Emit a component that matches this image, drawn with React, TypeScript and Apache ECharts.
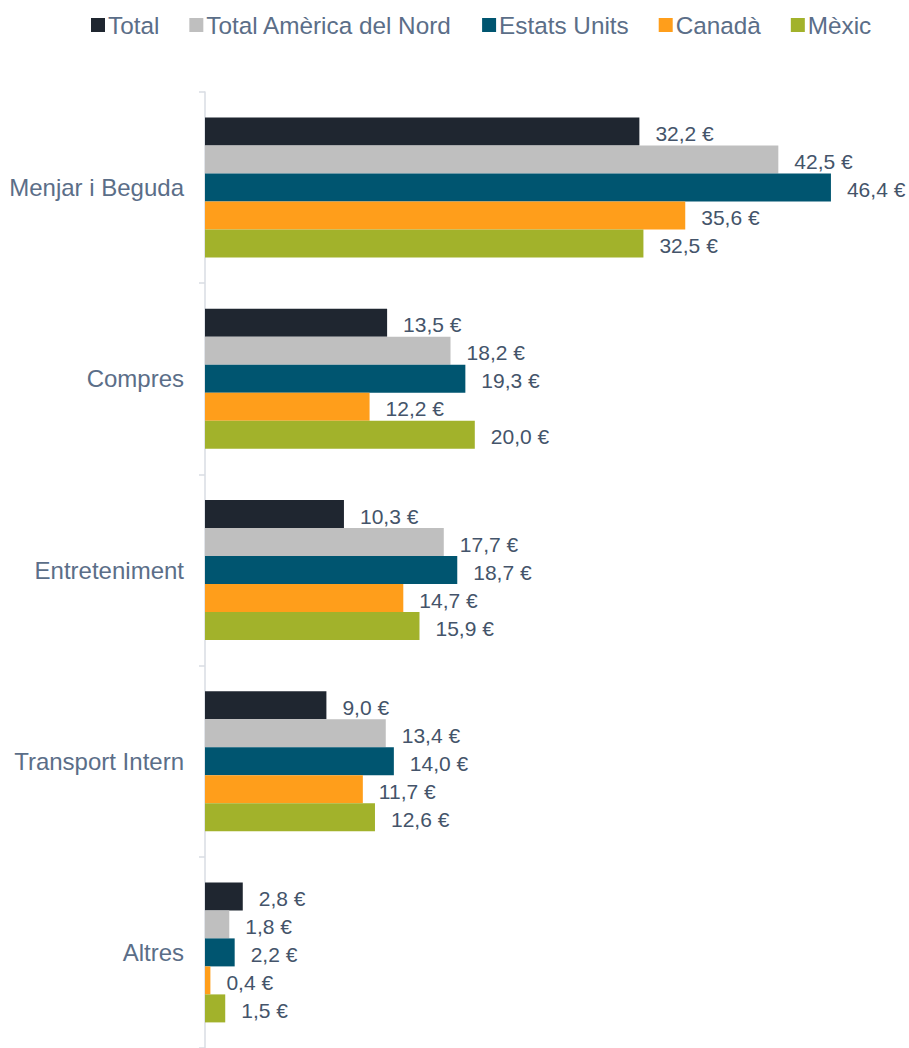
import React, { useEffect, useRef } from "react";
import * as echarts from "echarts";

const categories = ["Menjar i Beguda", "Compres", "Entreteniment", "Transport Intern", "Altres"];
const seriesNames = ["Total", "Total Amèrica del Nord", "Estats Units", "Canadà", "Mèxic"];
const total = [32.2, 13.5, 10.3, 9.0, 2.8];
const totalNA = [42.5, 18.2, 17.7, 13.4, 1.8];
const usa = [46.4, 19.3, 18.7, 14.0, 2.2];
const canada = [35.6, 12.2, 14.7, 11.7, 0.4];
const mexico = [32.5, 20.0, 15.9, 12.6, 1.5];
const colors = ["#1f2630", "#bfbfbf", "#005570", "#ff9e1b", "#a2b22b"];

export default function App() {
  const ref = useRef<HTMLDivElement>(null);
  useEffect(() => {
    if (!ref.current) return;
    const chart = echarts.init(ref.current, null, { renderer: "svg" });
    const data = [total, totalNA, usa, canada, mexico];
    chart.setOption({
      animation: false,
      textStyle: { fontFamily: "Liberation Sans, Arial, sans-serif" },
      legend: {
        top: 8,
        left: 86,
        itemWidth: 14,
        itemHeight: 14,
        itemGap: 30,
        icon: "rect",
        textStyle: { fontSize: 24.3, color: "#5b6e88", padding: [0, 0, 0, -2] },
        data: seriesNames,
      },
      grid: { left: 205, top: 92, width: 674.5, height: 960, containLabel: false },
      xAxis: {
        type: "value",
        min: 0,
        max: 50,
        show: false,
      },
      yAxis: {
        type: "category",
        inverse: true,
        data: categories,
        axisLine: { show: true, lineStyle: { color: "#d9dde3", width: 1.5 } },
        axisTick: { show: true, length: 6, lineStyle: { color: "#d9dde3", width: 1.5 } },
        axisLabel: { margin: 21, fontSize: 24, color: "#5b6e88" },
        splitLine: { show: false },
      },
      series: seriesNames.map((name, i) => ({
        name,
        type: "bar",
        data: data[i],
        barWidth: 28,
        barGap: "0%",
        itemStyle: { color: colors[i] },
        label: {
          show: true,
          position: "right",
          distance: 16,
          offset: [0, 2],
          fontSize: 21,
          color: "#44546a",
          formatter: (p: any) => p.value.toFixed(1).replace(".", ",") + " €",
        },
      })),
    });
    return () => chart.dispose();
  }, []);
  return <div ref={ref} style={{ position: "absolute", left: 0, top: 0, width: 909, height: 1048 }} />;
}
